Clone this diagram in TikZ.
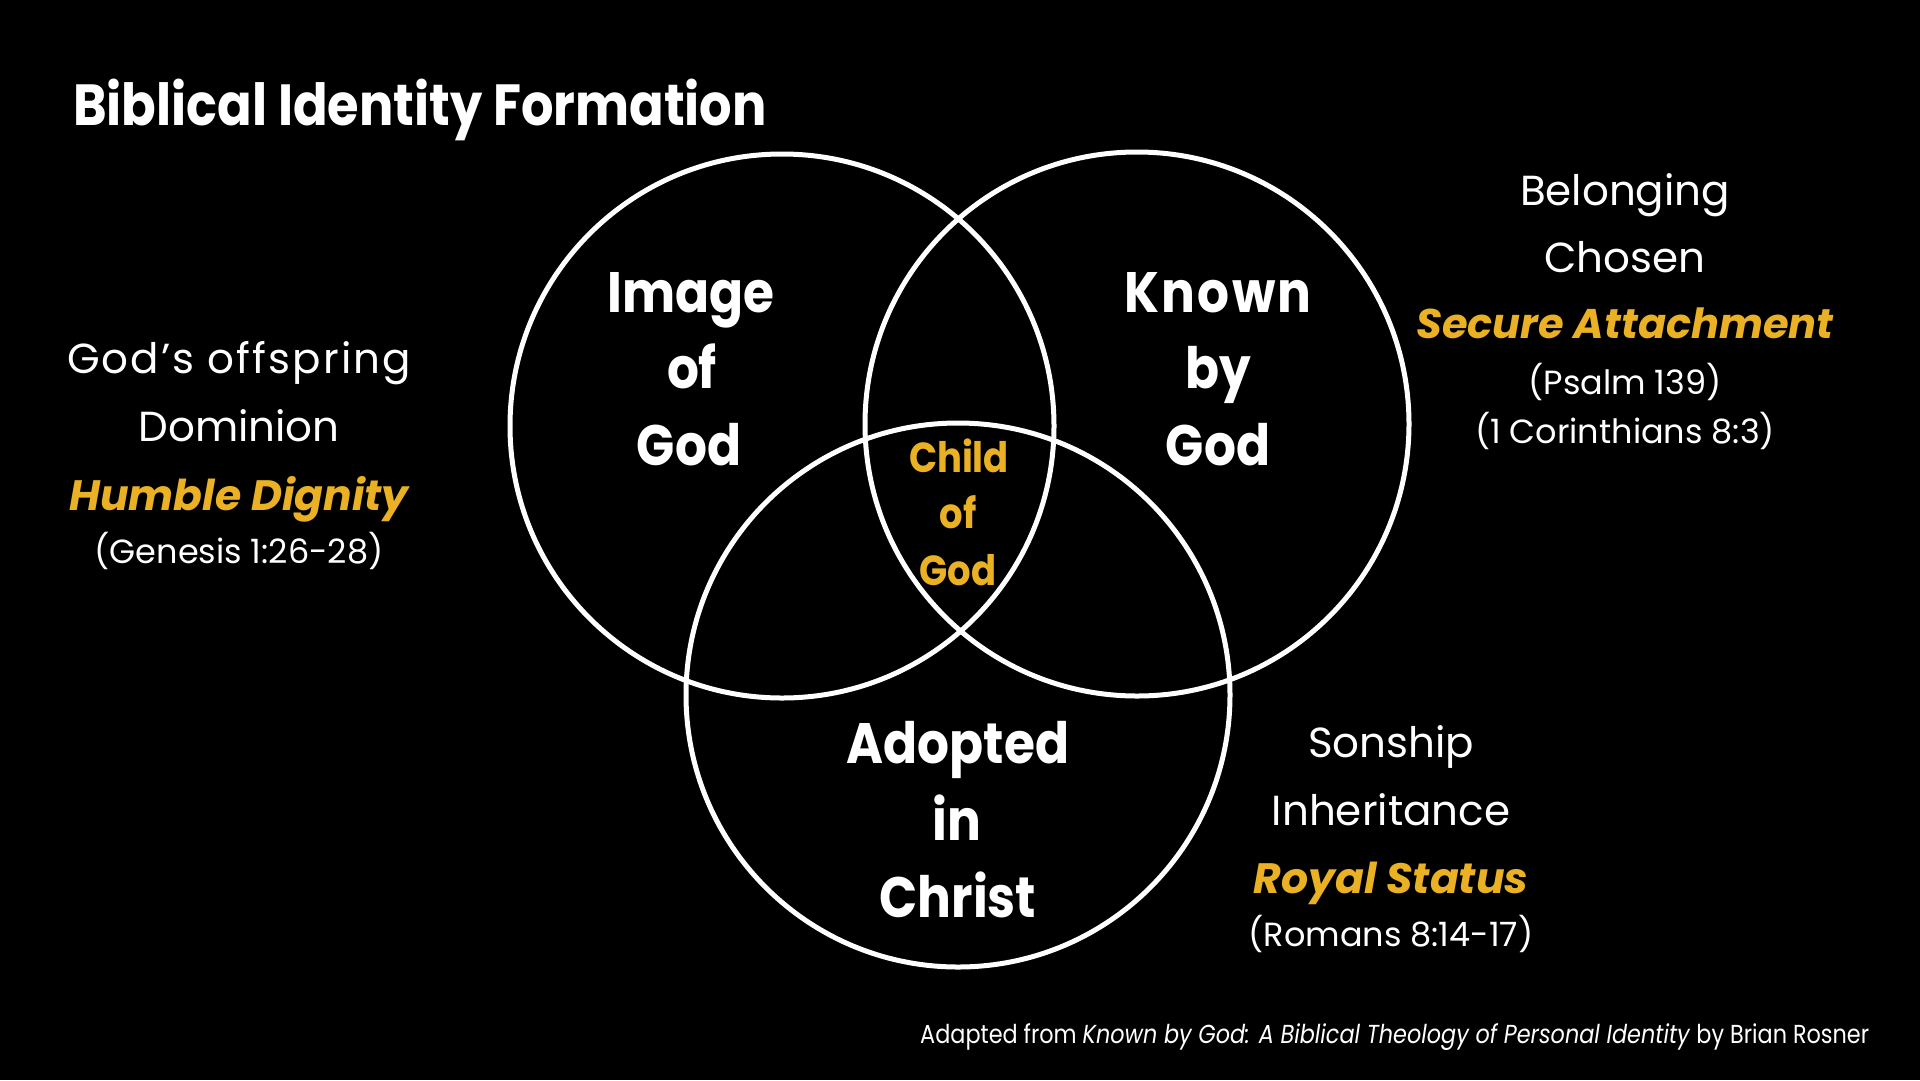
\documentclass[tikz,border=0pt]{standalone}
\usepackage{fontspec}
\setmainfont{Poppins}[FakeStretch=0.88]
\newfontfamily\sidefont{Poppins}
\newfontfamily\condfont{Poppins}[FakeStretch=0.86]
\definecolor{gold}{RGB}{234,177,36}
\begin{document}
\begin{tikzpicture}[x=1pt,y=-1pt,
  ring/.style={circle,draw=white,line width=5pt,minimum size=544pt,inner sep=0pt},
  txt/.style={anchor=base,text=white,inner sep=0pt},
  bigword/.style={txt,font=\fontsize{57}{60}\selectfont\bfseries},
  midword/.style={txt,text=gold,font=\fontsize{42}{46}\selectfont\bfseries},
  sideword/.style={txt,font=\sidefont\fontsize{42}{46}\selectfont},
  goldword/.style={txt,text=gold,font=\sidefont\fontsize{42.5}{46}\selectfont\bfseries\itshape},
  citeword/.style={txt,font=\sidefont\fontsize{33.5}{36}\selectfont},
  titleword/.style={txt,anchor=base west,font=\fontsize{58}{60}\selectfont\bfseries},
  footword/.style={txt,anchor=base west,font=\condfont\fontsize{26}{30}\selectfont}]
\fill[black] (0,0) rectangle (1920,1080);
\useasboundingbox (0,0) rectangle (1920,1080);
% circles
\node[ring] (cl) at (782,426) {};
\node[ring] (cr) at (1137,424) {};
\node[ring] (cb) at (958,695) {};
% title
\node[titleword] (title) at (73,125) {Biblical Identity Formation};
% circle words
\node[bigword] (img1) at (691,312) {Image};
\node[bigword] (img2) at (692,388) {of};
\node[bigword] (img3) at (689,465) {God};
\node[bigword] (kn1) at (1218,312) {\addfontfeature{LetterSpace=4}Known};
\node[bigword] (kn2) at (1218,388) {by};
\node[bigword] (kn3) at (1218,465) {God};
\node[bigword] (ad1) at (958,763) {Adopted};
\node[bigword] (ad2) at (957,840) {in};
\node[bigword] (ad3) at (958,917) {Christ};
\node[midword] (ch1) at (959,472) {Child};
\node[midword] (ch2) at (958,528) {of};
\node[midword] (ch3) at (958,585) {God};
% left block
\node[sideword] (l1) at (239,373) {\addfontfeature{LetterSpace=5}God’s offspring};
\node[sideword] (l2) at (239,441) {Dominion};
\node[goldword] (l3) at (239,510) {Humble Dignity};
\node[citeword] (l4) at (239,563) {(Genesis 1:26-28)};
% right top block
\node[sideword] (r1) at (1625,205) {Belonging};
\node[sideword] (r2) at (1625,272) {Chosen};
\node[goldword,font=\sidefont\fontsize{41.5}{46}\selectfont\bfseries\itshape] (r3) at (1625,338) {Secure Attachment};
\node[citeword] (r4) at (1625,394) {(Psalm 139)};
\node[citeword] (r5) at (1625,443) {(1 Corinthians 8:3)};
% bottom right block
\node[sideword] (b1) at (1391,757) {Sonship};
\node[sideword] (b2) at (1391,825) {Inheritance};
\node[goldword] (b3) at (1391,893) {Royal Status};
\node[citeword] (b4) at (1391,946) {(Romans 8:14-17)};
% footer
\node[footword] (foot) at (920,1043) {Adapted from \textit{Known by God: A Biblical Theology of Personal Identity} by Brian Rosner};
\end{tikzpicture}
\end{document}
